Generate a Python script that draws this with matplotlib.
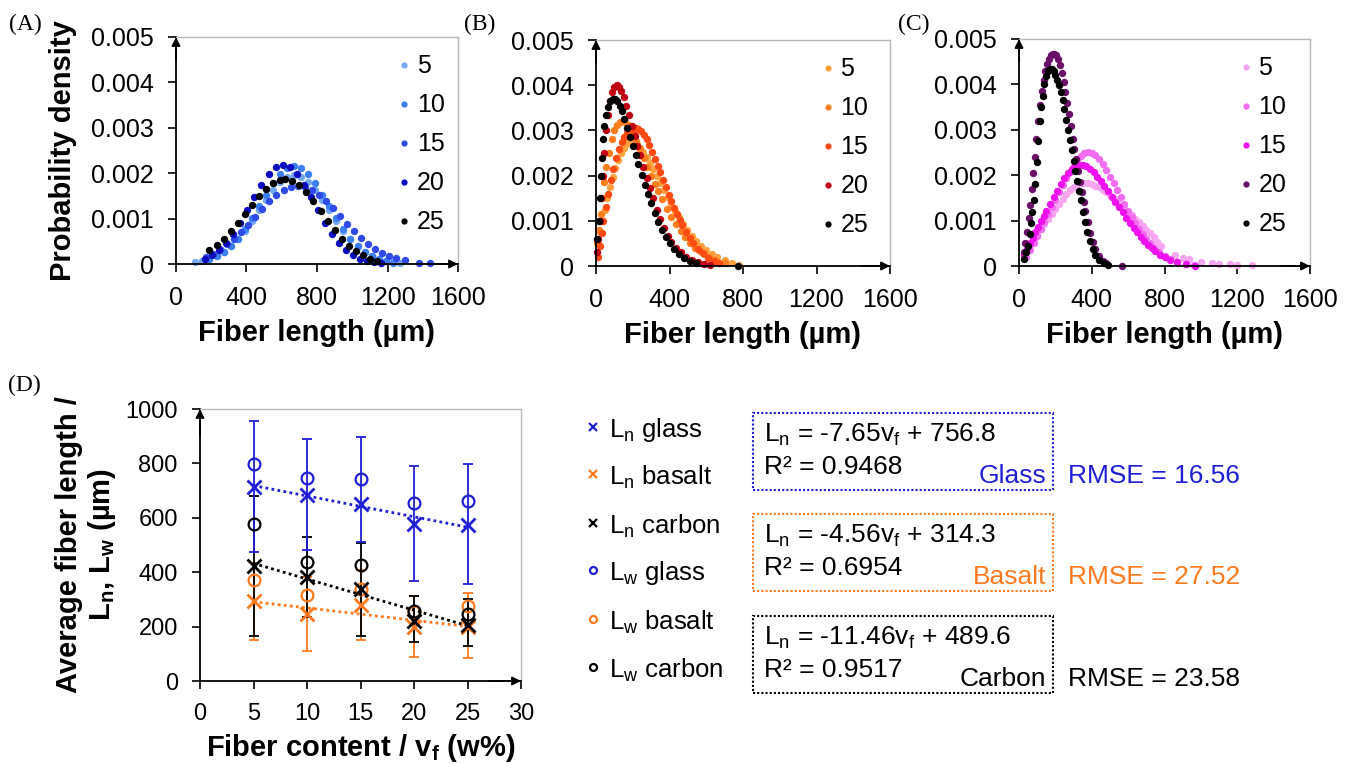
import matplotlib

matplotlib.use("Agg")
import matplotlib.pyplot as plt  # noqa: E402
import numpy as np  # noqa: E402
from matplotlib.lines import Line2D  # noqa: E402
from matplotlib.patches import Rectangle  # noqa: E402

plt.rcParams["font.family"] = ["Liberation Sans", "DejaVu Sans"]
plt.rcParams["mathtext.fontset"] = "custom"
plt.rcParams["mathtext.rm"] = "Liberation Sans"
plt.rcParams["mathtext.it"] = "Liberation Sans:italic"
plt.rcParams["mathtext.bf"] = "Liberation Sans:bold"

W, H = 1351, 764

# ---- panel A: glass, probability density (x in um, y in 1e-3 /um) ----
a5_x = [110, 150, 190, 230, 270, 310, 350, 390, 430, 470, 510, 550, 590, 630, 670,
        710, 750, 790, 830, 870, 910, 950, 990, 1030, 1070, 1110, 1150, 1190, 1230, 1270]
a5_y = [0.04, 0.07, 0.11, 0.17, 0.27, 0.39, 0.54, 0.73, 0.95, 1.18, 1.42, 1.63, 1.80, 1.91, 1.95,
        1.91, 1.80, 1.63, 1.42, 1.18, 0.95, 0.73, 0.54, 0.39, 0.27, 0.17, 0.11, 0.07, 0.04, 0.02]
a10_x = [190, 230, 270, 310, 350, 390, 430, 470, 510, 550, 590, 630, 670, 710, 750, 790,
         830, 870, 910, 950, 990, 1030, 1070, 1110, 1150, 1190, 1230]
a10_y = [0.10, 0.17, 0.26, 0.39, 0.56, 0.77, 1.01, 1.27, 1.53, 1.78, 1.98, 2.11, 2.15, 2.11, 1.98, 1.78,
         1.53, 1.27, 1.01, 0.77, 0.56, 0.39, 0.26, 0.17, 0.10, 0.06, 0.03]
a15_x = [170, 210, 250, 290, 330, 370, 410, 450, 490, 530, 570, 610, 650, 690, 730, 770, 810, 850,
         890, 930, 970, 1010, 1050, 1090, 1130, 1170, 1210, 1250, 1300, 1380, 1440]
a15_y = [0.16, 0.23, 0.32, 0.43, 0.56, 0.71, 0.87, 1.04, 1.22, 1.38, 1.52, 1.63, 1.70, 1.72, 1.70, 1.63,
         1.53, 1.39, 1.23, 1.06, 0.89, 0.73, 0.58, 0.45, 0.34, 0.25, 0.18, 0.13, 0.08, 0.03, 0.02]
a20_x = [165, 205, 245, 285, 325, 365, 405, 445, 485, 525, 565, 605, 645, 685, 725, 765, 805,
         845, 885, 925, 965, 1005, 1045, 1085, 1125, 1165]
a20_y = [0.12, 0.19, 0.31, 0.46, 0.66, 0.91, 1.19, 1.48, 1.75, 1.98, 2.13, 2.18, 2.13, 1.98, 1.75, 1.48,
         1.19, 0.91, 0.66, 0.46, 0.31, 0.19, 0.12, 0.07, 0.04, 0.02]
a25_x = [190, 230, 270, 310, 350, 390, 430, 470, 510, 550, 590, 620, 660, 700, 740, 780, 820,
         860, 900, 940, 980, 1020, 1060, 1100, 1140]
a25_y = [0.30, 0.42, 0.56, 0.72, 0.91, 1.11, 1.31, 1.50, 1.66, 1.78, 1.85, 1.87, 1.83, 1.73, 1.58, 1.38,
         1.16, 0.94, 0.74, 0.55, 0.40, 0.28, 0.19, 0.12, 0.07]

# ---- panel B: basalt ----
b5_x = [10, 22, 35, 48, 62, 76, 90, 105, 120, 135, 150, 165, 180, 195, 210, 225, 240, 258, 276, 294,
        312, 330, 350, 370, 390, 410, 430, 450, 472, 495, 520, 545, 570, 600, 630, 660, 700, 740, 780]
b5_y = [0.5, 0.75, 1.0, 1.25, 1.5, 1.75, 1.97, 2.17, 2.35, 2.5, 2.62, 2.7, 2.75, 2.76, 2.74, 2.69, 2.62,
        2.52, 2.41, 2.28, 2.14, 2.0, 1.84, 1.68, 1.52, 1.37, 1.22, 1.08, 0.94, 0.8, 0.67, 0.55, 0.45,
        0.35, 0.27, 0.2, 0.13, 0.07, 0.03]
b10_x = [8, 16, 25, 35, 45, 57, 70, 85, 100, 115, 130, 145, 160, 175, 190, 205, 220, 240, 260, 280,
         300, 320, 340, 360, 385, 410, 435, 460, 485, 512, 540, 566, 590, 615, 650, 700]
b10_y = [0.5, 0.8, 1.15, 1.5, 1.85, 2.2, 2.5, 2.8, 3.0, 3.12, 3.18, 3.2, 3.18, 3.12, 3.02, 2.9, 2.77,
         2.58, 2.4, 2.2, 2.0, 1.82, 1.65, 1.48, 1.27, 1.08, 0.92, 0.78, 0.64, 0.5, 0.4, 0.33, 0.26,
         0.2, 0.13, 0.07]
b15_x = [10, 20, 30, 40, 52, 65, 80, 95, 110, 125, 140, 155, 170, 185, 200, 215, 230, 245, 260, 275,
         290, 305, 320, 335, 350, 365, 380, 395, 410, 425, 440, 455, 470, 490, 510, 530, 555, 580,
         610, 640, 670]
b15_y = [0.2, 0.45, 0.72, 1.0, 1.3, 1.6, 1.9, 2.15, 2.38, 2.58, 2.74, 2.86, 2.95, 3.01, 3.04, 3.05,
         3.03, 2.98, 2.9, 2.8, 2.67, 2.52, 2.37, 2.22, 2.07, 1.9, 1.74, 1.58, 1.43, 1.29, 1.15, 1.02,
         0.9, 0.76, 0.63, 0.5, 0.38, 0.28, 0.18, 0.12, 0.07]
b20_x = [5, 12, 20, 28, 36, 45, 55, 65, 75, 88, 100, 113, 125, 138, 150, 165, 180, 195, 210, 225,
         240, 258, 275, 292, 310, 330, 350, 370, 390, 410, 435, 460, 490, 520, 555, 590, 620]
b20_y = [0.3, 0.6, 1.0, 1.5, 2.0, 2.5, 3.0, 3.35, 3.65, 3.85, 3.97, 4.0, 3.97, 3.88, 3.75, 3.55, 3.33,
         3.1, 2.87, 2.65, 2.45, 2.2, 1.95, 1.72, 1.5, 1.25, 1.03, 0.84, 0.67, 0.53, 0.4, 0.3, 0.2,
         0.13, 0.08, 0.05, 0.03]
b25_x = [8, 14, 20, 26, 32, 38, 45, 55, 65, 78, 90, 103, 115, 128, 140, 155, 170, 185, 200, 215,
         230, 248, 265, 282, 300, 320, 340, 360, 380, 400, 425, 450, 480, 510, 545, 775]
b25_y = [0.6, 1.0, 1.5, 2.0, 2.4, 2.8, 3.1, 3.35, 3.52, 3.65, 3.7, 3.7, 3.65, 3.55, 3.42, 3.25, 3.05,
         2.85, 2.65, 2.45, 2.25, 2.02, 1.8, 1.6, 1.4, 1.18, 0.98, 0.8, 0.64, 0.5, 0.37, 0.27, 0.18,
         0.12, 0.07, 0.0]

# ---- panel C: carbon ----
c5_x = [40, 60, 80, 100, 120, 140, 160, 180, 200, 220, 240, 260, 280, 300, 320, 340, 360, 380, 400,
        420, 440, 460, 480, 500, 520, 540, 560, 580, 600, 620, 640, 660, 680, 700, 720, 740, 760, 780,
        860, 900, 935, 1000, 1060, 1100, 1160, 1200, 1280]
c5_y = [0.3, 0.45, 0.58, 0.7, 0.82, 0.93, 1.04, 1.15, 1.26, 1.37, 1.48, 1.58, 1.67, 1.74, 1.79, 1.82,
        1.83, 1.82, 1.8, 1.77, 1.73, 1.68, 1.62, 1.56, 1.49, 1.42, 1.35, 1.28, 1.2, 1.12, 1.04, 0.96,
        0.88, 0.8, 0.72, 0.63, 0.53, 0.43, 0.24, 0.17, 0.15, 0.08, 0.06, 0.05, 0.04, 0.02, 0.02]
c10_x = [40, 60, 80, 100, 120, 140, 160, 180, 200, 220, 240, 260, 280, 300, 320, 340, 360, 380, 400,
         420, 440, 460, 480, 500, 520, 540, 560, 580, 600, 620, 640, 660, 680, 700, 720, 745, 770,
         800, 830, 870, 920, 960]
c10_y = [0.2, 0.35, 0.5, 0.66, 0.82, 0.98, 1.14, 1.3, 1.46, 1.62, 1.78, 1.93, 2.07, 2.2, 2.32, 2.42,
         2.49, 2.52, 2.5, 2.44, 2.35, 2.24, 2.11, 1.97, 1.82, 1.67, 1.52, 1.37, 1.22, 1.08, 0.95, 0.82,
         0.7, 0.6, 0.5, 0.4, 0.31, 0.22, 0.15, 0.09, 0.04, 0.02]
c15_x = [30, 45, 60, 75, 90, 105, 120, 135, 150, 170, 190, 210, 230, 250, 270, 290, 310, 330, 350,
         370, 390, 410, 430, 450, 470, 490, 510, 530, 550, 570, 590, 610, 630, 650, 670, 690, 710,
         730, 750, 775, 800, 830, 870, 920, 970]
c15_y = [0.25, 0.38, 0.5, 0.62, 0.75, 0.87, 0.99, 1.1, 1.22, 1.37, 1.52, 1.66, 1.8, 1.93, 2.05, 2.14,
         2.2, 2.23, 2.23, 2.2, 2.14, 2.06, 1.97, 1.87, 1.76, 1.65, 1.53, 1.42, 1.3, 1.18, 1.06, 0.95,
         0.84, 0.74, 0.64, 0.55, 0.47, 0.39, 0.32, 0.25, 0.19, 0.13, 0.08, 0.04, 0.01]
c20_x = [25, 35, 45, 55, 62, 70, 78, 86, 95, 105, 115, 125, 135, 145, 155, 165, 175, 185, 195, 205,
         215, 225, 235, 245, 255, 265, 275, 285, 295, 305, 315, 325, 335, 345, 355, 365, 378, 392,
         406, 420, 440, 460, 480, 565]
c20_y = [0.3, 0.5, 0.75, 1.05, 1.35, 1.7, 2.05, 2.4, 2.8, 3.2, 3.55, 3.85, 4.1, 4.3, 4.45, 4.57, 4.65,
         4.68, 4.68, 4.64, 4.55, 4.42, 4.25, 4.05, 3.83, 3.6, 3.35, 3.08, 2.8, 2.58, 2.35, 2.1, 1.86,
         1.63, 1.42, 1.22, 0.98, 0.72, 0.52, 0.38, 0.22, 0.12, 0.06, 0.0]
c25_x = [30, 40, 50, 58, 66, 74, 82, 90, 98, 106, 114, 122, 130, 140, 150, 160, 170, 180, 190, 200,
         210, 220, 230, 240, 250, 260, 270, 280, 290, 300, 310, 320, 330, 340, 352, 364, 376, 390,
         405, 420, 440, 465, 490]
c25_y = [0.15, 0.3, 0.45, 0.7, 0.95, 1.2, 1.45, 1.8, 2.3, 2.75, 3.2, 3.5, 3.75, 4.0, 4.18, 4.3, 4.35,
         4.35, 4.3, 4.2, 4.1, 3.98, 3.83, 3.65, 3.45, 3.22, 3.0, 2.78, 2.55, 2.32, 2.1, 1.88, 1.66,
         1.45, 1.2, 0.96, 0.75, 0.54, 0.37, 0.24, 0.13, 0.06, 0.03]

content_labels = ["5", "10", "15", "20", "25"]
glass_colors = ["#74a9f2", "#3c7ff3", "#3049ea", "#0b0bbf", "#000000"]
basalt_colors = ["#ffa23f", "#ff7d1c", "#ff4a12", "#c00012", "#000000"]
carbon_colors = ["#f6a6f0", "#f26df0", "#ef12ef", "#6a1068", "#000000"]

dens_ticks = [0, 0.001, 0.002, 0.003, 0.004, 0.005]
dens_tick_labels = ["0", "0.001", "0.002", "0.003", "0.004", "0.005"]
len_ticks = [0, 400, 800, 1200, 1600]

# ---- panel D: average fiber length vs fiber content ----
vf = [5, 10, 15, 20, 25]
ln_glass = [714, 685, 652, 578, 575]
ln_glass_lo = [475, 483, 510, 369, 356]
ln_glass_hi = [957, 889, 897, 790, 796]
lw_glass = [797, 747, 744, 655, 660]
ln_basalt = [293, 246, 280, 200, 200]
ln_basalt_lo = [151, 111, 151, 89, 83]
ln_basalt_hi = [435, 381, 409, 311, 325]
lw_basalt = [370, 317, 340, 255, 275]
ln_carbon = [423, 383, 337, 222, 207]
ln_carbon_lo = [164, 237, 164, 144, 127]
ln_carbon_hi = [679, 528, 509, 311, 300]
lw_carbon = [578, 438, 425, 259, 247]

fit_slope = [-7.65, -4.56, -11.46]
fit_icpt = [756.8, 314.3, 489.6]
fit_r2 = ["0.9468", "0.6954", "0.9517"]
fit_rmse = ["16.56", "27.52", "23.58"]
fiber_names = ["Glass", "Basalt", "Carbon"]
fiber_colors = ["#1f1fd6", "#ff7a1e", "#000000"]


def fig_xy(x, y):
    return x / W, 1 - y / H


def frame(ax):
    for s in ("top", "right"):
        ax.spines[s].set_color("#b8b8b8")
        ax.spines[s].set_linewidth(1.0)
    for s in ("left", "bottom"):
        ax.spines[s].set_color("black")
        ax.spines[s].set_linewidth(1.3)
    ax.tick_params(direction="out", length=6, width=1.2, labelsize=18, pad=10, colors="black")
    arrow = dict(arrowstyle="-|>", color="black", lw=1.2, mutation_scale=13, shrinkA=0, shrinkB=0)
    ax.annotate("", xy=(1, 0), xytext=(0.9, 0), xycoords="axes fraction", arrowprops=arrow,
                annotation_clip=False)
    ax.annotate("", xy=(0, 1), xytext=(0, 0.9), xycoords="axes fraction", arrowprops=arrow,
                annotation_clip=False)


fig = plt.figure(figsize=(W / 100, H / 100), dpi=100)

panels = [
    ("(A)", (176, 37, 458, 264), [(a5_x, a5_y), (a10_x, a10_y), (a15_x, a15_y), (a20_x, a20_y), (a25_x, a25_y)],
     glass_colors, (9, 24), 0.747),
    ("(B)", (596, 40, 890, 266), [(b5_x, b5_y), (b10_x, b10_y), (b15_x, b15_y), (b20_x, b20_y), (b25_x, b25_y)],
     basalt_colors, (464, 24), 0.729),
    ("(C)", (1019, 39, 1310, 266), [(c5_x, c5_y), (c10_x, c10_y), (c15_x, c15_y), (c20_x, c20_y), (c25_x, c25_y)],
     carbon_colors, (898, 24), 0.72),
]

for tag, (l, t, r, b), series, colors, tagpos, leg_x in panels:
    x0, y0 = fig_xy(l, b)
    ax = fig.add_axes([x0, y0, (r - l) / W, (b - t) / H])
    for (xs, ys), c, lab in zip(series, colors, content_labels):
        ax.plot(xs, np.array(ys) * 1e-3, "o", ms=5.3, color=c, mec="none", label=lab, clip_on=False)
    ax.set_xlim(0, 1600)
    ax.set_ylim(0, 0.005)
    ax.set_xticks(len_ticks)
    ax.set_yticks(dens_ticks)
    ax.set_yticklabels(dens_tick_labels)
    frame(ax)
    ax.set_xlabel("Fiber length (µm)", fontsize=21, fontweight="bold", labelpad=6)
    if tag == "(A)":
        ax.set_ylabel("Probability density", fontsize=21, fontweight="bold", labelpad=10)
    ax.legend(loc="upper left", bbox_to_anchor=(leg_x, 0.967), frameon=False, fontsize=18,
              handlelength=0.6, handletextpad=0.2, labelspacing=0.6, borderaxespad=0,
              markerscale=0.85)
    fig.text(*fig_xy(*tagpos), tag, fontsize=17, family="Liberation Serif", va="center", ha="left")

# ---- panel D ----
l, t, r, b = 200, 409, 521, 681
x0, y0 = fig_xy(l, b)
axd = fig.add_axes([x0, y0, (r - l) / W, (b - t) / H])
ln_sets = [(ln_glass, ln_glass_lo, ln_glass_hi), (ln_basalt, ln_basalt_lo, ln_basalt_hi),
           (ln_carbon, ln_carbon_lo, ln_carbon_hi)]
lw_sets = [lw_glass, lw_basalt, lw_carbon]
draw_order = [1, 2, 0]
for i in draw_order:
    ln, lo, hi = ln_sets[i]
    ln = np.array(ln)
    axd.errorbar(vf, ln, yerr=[ln - np.array(lo), np.array(hi) - ln], fmt="none",
                 ecolor=fiber_colors[i], elinewidth=1.3, capsize=3.5, capthick=1.3)
for i in draw_order:
    v_line = np.array([vf[0], vf[-1]])
    axd.plot(v_line, fit_slope[i] * v_line + fit_icpt[i], ls=(0, (1, 1.2)), lw=2,
             color=fiber_colors[i])
    axd.plot(vf, ln_sets[i][0], "x", ms=10, mew=2, color=fiber_colors[i])
    axd.plot(vf, lw_sets[i], "o", ms=8.5, mfc="none", mew=1.6, color=fiber_colors[i])
axd.set_xlim(0, 30)
axd.set_ylim(0, 1000)
axd.set_xticks([0, 5, 10, 15, 20, 25, 30])
axd.set_yticks([0, 200, 400, 600, 800, 1000])
frame(axd)
axd.tick_params(labelsize=17)
axd.set_xlabel(r"Fiber content / $\mathbf{v_f}$ (w%)", fontsize=21, fontweight="bold", labelpad=5)
axd.set_ylabel("Average fiber length /\n" + r"$\mathbf{L_n}$, $\mathbf{L_w}$ (µm)", fontsize=21,
               fontweight="bold", labelpad=5, linespacing=1.15)
fig.text(*fig_xy(8, 385), "(D)", fontsize=17, family="Liberation Serif", va="center", ha="left")

# legend of panel D
leg_rows = [430, 477, 526, 573, 622, 670]
leg_marks = ["x", "x", "x", "o", "o", "o"]
leg_text = [r"$\mathrm{L_n}$ glass", r"$\mathrm{L_n}$ basalt", r"$\mathrm{L_n}$ carbon",
            r"$\mathrm{L_w}$ glass", r"$\mathrm{L_w}$ basalt", r"$\mathrm{L_w}$ carbon"]
leg_cols = fiber_colors * 2
for yy, mk, txt, c in zip(leg_rows, leg_marks, leg_text, leg_cols):
    mx, my = fig_xy(593, yy - 3)
    fig.add_artist(Line2D([mx], [my], transform=fig.transFigure, marker=mk, ms=6 if mk == "x" else 5,
                          mew=1.6, mfc="none", color=c, ls="none"))
    fig.text(*fig_xy(609, yy), txt, fontsize=18.5, va="center", ha="left")

# fit boxes
box_tops = [413, 514, 616]
box_h = 77
for i, bt in enumerate(box_tops):
    c = fiber_colors[i]
    bx0, by0 = fig_xy(753, bt + box_h)
    fig.add_artist(Rectangle((bx0, by0), (1053 - 753) / W, box_h / H, transform=fig.transFigure,
                             fill=False, ls=(0, (1, 1)), lw=1.5, ec=c))
    eq = r"$\mathrm{L_n}$ = " + f"{fit_slope[i]:.2f}" + r"$\mathrm{v_f}$ + " + f"{fit_icpt[i]:.1f}"
    fig.text(*fig_xy(764, bt + 22), eq, fontsize=19, va="center", ha="left")
    fig.text(*fig_xy(764, bt + 54), "R² = " + fit_r2[i], fontsize=19, va="center", ha="left")
    fig.text(*fig_xy(1046, bt + 63), fiber_names[i], fontsize=19, va="center", ha="right", color=c)
    fig.text(*fig_xy(1068, bt + 63), "RMSE = " + fit_rmse[i], fontsize=19, va="center", ha="left",
             color=c)

fig.savefig("out.png", dpi=100)
